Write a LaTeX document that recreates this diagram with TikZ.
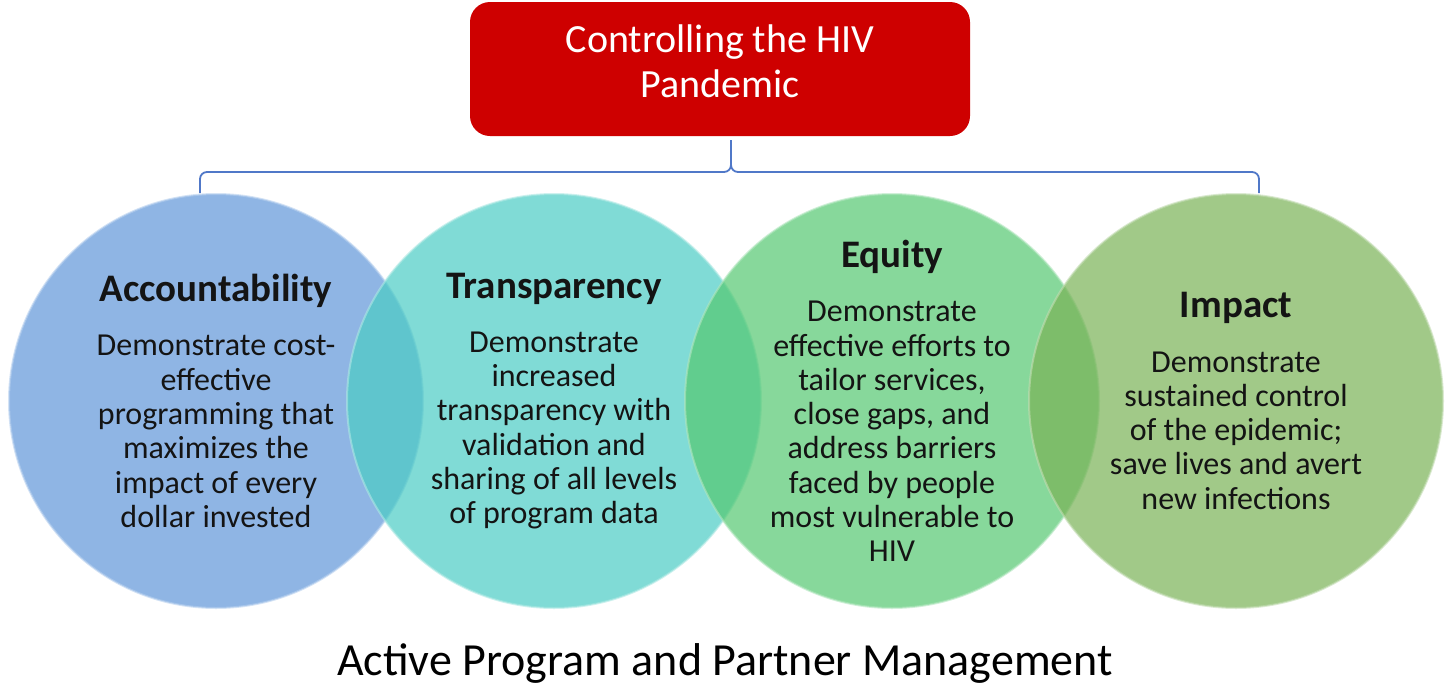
\documentclass[tikz,border=0pt]{standalone}
\usepackage{fontspec}
\setmainfont{Carlito}
\definecolor{cblue}{RGB}{96,150,217}
\definecolor{ccyan}{RGB}{74,204,196}
\definecolor{cgreen}{RGB}{84,200,112}
\definecolor{colive}{RGB}{121,178,86}
\definecolor{cred}{RGB}{206,0,0}
\definecolor{cbrace}{RGB}{80,120,200}
\tikzset{
  circ/.style={circle, minimum size=414pt, inner sep=0pt, fill opacity=0.7, text opacity=1,
     draw=#1!45!white, draw opacity=0.6, line width=2pt, fill=#1, align=center,
     font=\fontsize{32}{34.3}\selectfont, text=black!92},
  titlebox/.style={rectangle, rounded corners=20pt, fill=cred, minimum width=500pt, minimum height=134pt},
  titletext/.style={text=white, align=center, font=\fontsize{40}{45}\selectfont},
  brace/.style={draw=cbrace, line width=1.8pt, rounded corners=7pt},
  foot/.style={font=\fontsize{46}{48}\selectfont, text=black}
}
\newcommand{\hdtext}[1]{{\bfseries\fontsize{39}{34}\selectfont #1}\\[20pt]}
\begin{document}
\begin{tikzpicture}[x=1pt,y=-1pt]
\useasboundingbox (0,0) rectangle (1451,686);
\node[titlebox] (title) at (720,69) {};
\node[titletext] (titletxt) at (720,61) {Controlling the HIV\\Pandemic};
\coordinate (tip) at (731,140);
\coordinate (bl) at (200,193);
\coordinate (br) at (1259,193);
\coordinate (mid) at (731,172);
\draw[brace] (bl) -- (bl |- mid) -- (mid) -- (tip);
\draw[brace] (br) -- (br |- mid) -- (mid) -- (tip);
\node[circ=cblue] (acc) at (216,401) {\hdtext{Accountability}Demonstrate cost-\\effective\\programming that\\maximizes the\\impact of every\\dollar invested};
\node[circ=ccyan] (tra) at (554,401) {\hdtext{Transparency}Demonstrate\\increased\\transparency with\\validation and\\sharing of all levels\\of program data};
\node[circ=cgreen] (equ) at (892,401) {\hdtext{Equity}Demonstrate\\effective efforts to\\tailor services,\\close gaps, and\\address barriers\\faced by people\\most vulnerable to\\HIV};
\node[circ=colive] (imp) at (1236,401) {\hdtext{Impact}Demonstrate\\sustained control\\of the epidemic;\\save lives and avert\\new infections};
\node[foot] (footer) at (725,663) {Active Program and Partner Management};
\end{tikzpicture}
\end{document}
